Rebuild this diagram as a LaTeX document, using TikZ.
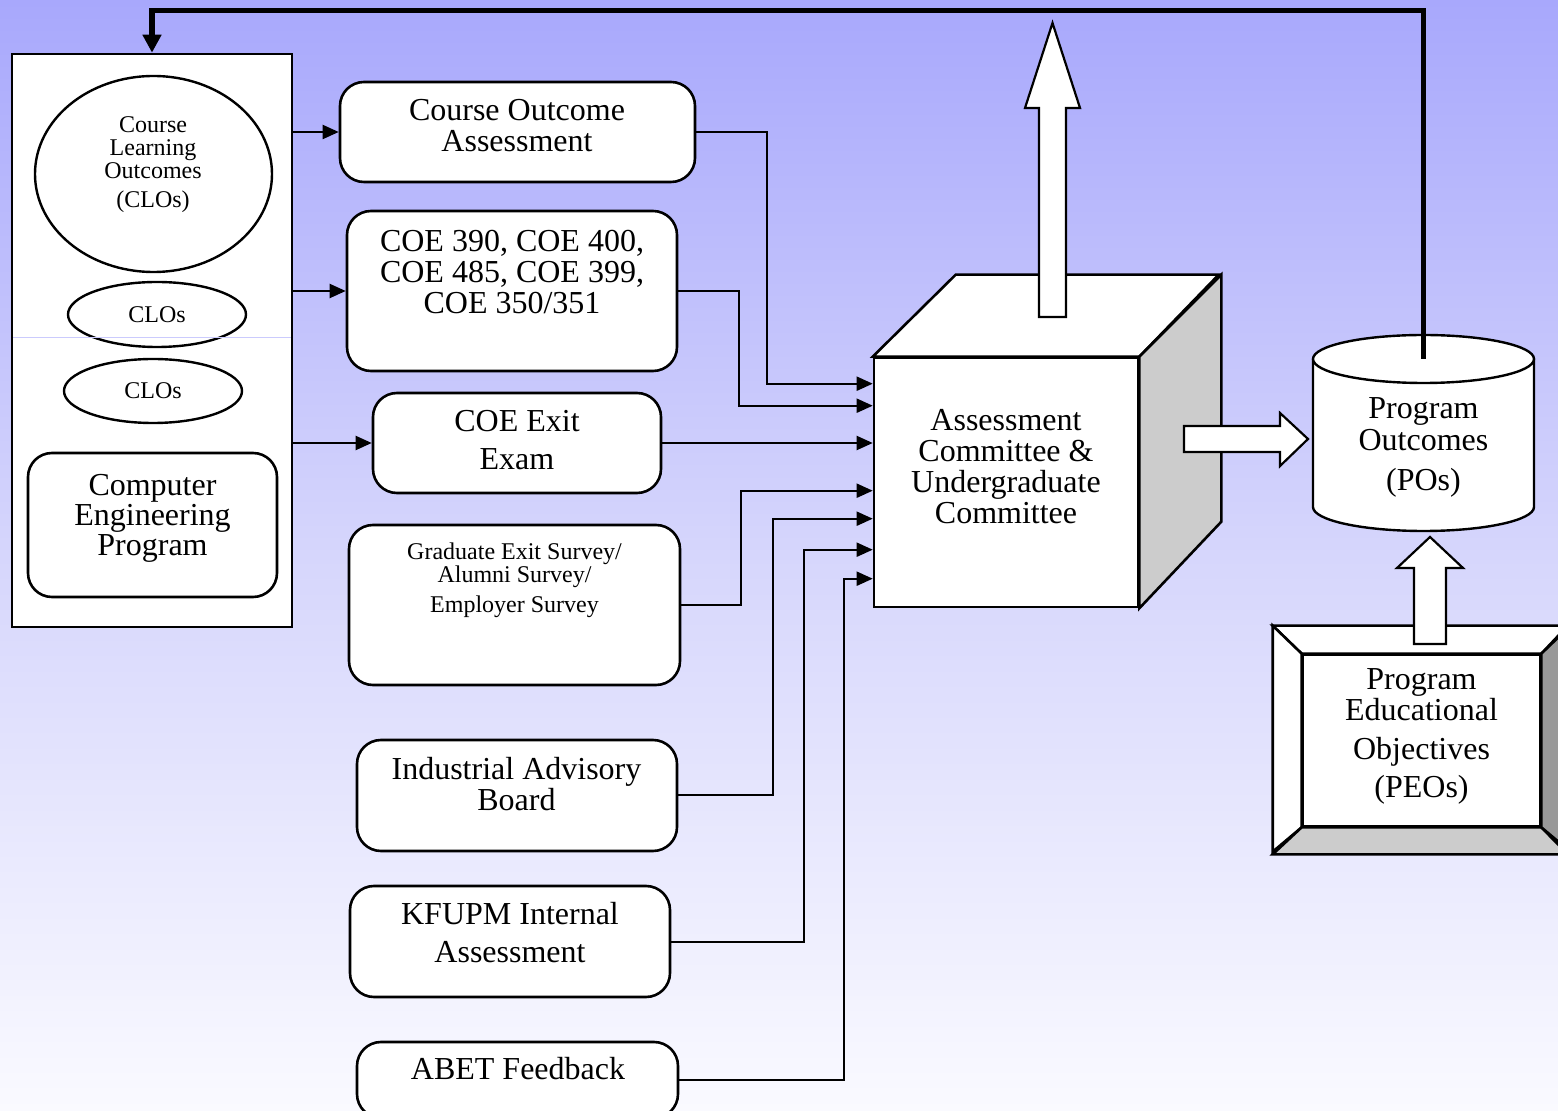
\documentclass[tikz,border=0pt]{standalone}
\usepackage{fontspec}
\setmainfont{Liberation Serif}
\usetikzlibrary{shapes,positioning,calc}
\usetikzlibrary{shapes.geometric}
\usetikzlibrary{arrows.meta}
\definecolor{bgtop}{RGB}{168,168,252}
\definecolor{bgmid}{RGB}{214,214,252}
\definecolor{bgbot}{RGB}{250,250,255}
\definecolor{sideface}{RGB}{204,204,204}
\definecolor{darkside}{RGB}{153,153,153}
\tikzstyle{arrow} = [line width=1pt,-{Triangle[length=8pt,width=7pt]}]
\tikzstyle{feedback} = [line width=2.6pt,-{Triangle[length=9pt,width=9pt]}]
\tikzstyle{rbox} = [draw,line width=1.3pt,fill=white,rounded corners=12pt,inner sep=0pt]
\tikzstyle{plainbox} = [draw,line width=1.3pt,fill=white,inner sep=0pt]
\tikzstyle{oval} = [draw,ellipse,line width=1.2pt,fill=white,inner sep=0pt]
\tikzstyle{bigtext} = [font=\fontsize{16}{15.5}\selectfont,align=center,inner sep=0pt]
\tikzstyle{smalltext} = [font=\fontsize{12}{11.5}\selectfont,align=center,inner sep=0pt]
\tikzstyle{blockarrow} = [draw,fill=white,line width=1.1pt,line join=miter]
\tikzstyle{face} = [draw,line width=1.3pt,line join=miter]

\begin{document}
\begin{tikzpicture}[x=0.5pt,y=-0.5pt]
\useasboundingbox (0,0) rectangle (1558,1111);
\clip (0,0) rectangle (1558,1111);
\shade[top color=bgtop,bottom color=bgbot,middle color=bgmid] (0,0) rectangle (1558,1111);

\node[plainbox,minimum width=140pt,minimum height=286.5pt] (cebox) at (152,340.5) {};
\node[oval,minimum width=118.5pt,minimum height=98pt] (clo) at (153.5,174) {};
\node[smalltext] (clotext) at (153,164.5) {Course\\Learning\\Outcomes\\[3pt](CLOs)};
\node[oval,smalltext,minimum width=89pt,minimum height=32.5pt] (cloa) at (157,314.5) {CLOs};
\node[oval,smalltext,minimum width=89pt,minimum height=32pt] (clob) at (153,391) {CLOs};
\draw[color=bgtop!60,line width=0.5pt] (13,338) -- (291,338);
\node[rbox,minimum width=124.5pt,minimum height=72pt] (prog) at (152.5,525) {};
\node[bigtext] (progtext) at (152.5,518) {Computer\\[-0.5pt]Engineering\\[-0.5pt]Program};

\node[rbox,minimum width=177.5pt,minimum height=50pt] (coa) at (517.5,132) {};
\node[bigtext] (coatext) at (517,126) {Course Outcome\\Assessment};
\node[rbox,minimum width=165pt,minimum height=80pt] (coe) at (512,291) {};
\node[bigtext] (coetext) at (512,272) {COE 390, COE 400,\\COE 485, COE 399,\\COE 350/351};
\node[rbox,minimum width=144pt,minimum height=50pt] (exit) at (517,443) {};
\node[bigtext] (exittext) at (517,440.5) {COE Exit\\[3.5pt]Exam};
\node[rbox,minimum width=165.5pt,minimum height=80pt] (grad) at (514.5,605) {};
\node[smalltext] (gradtext) at (514.5,580.5) {Graduate Exit Survey/\\Alumni Survey/\\[3.5pt]Employer Survey};
\node[rbox,minimum width=160pt,minimum height=55.5pt] (iab) at (517,795.5) {};
\node[bigtext] (iabtext) at (516.5,784) {Industrial Advisory\\Board};
\node[rbox,minimum width=160pt,minimum height=55.5pt] (kfupm) at (510,941.5) {};
\node[bigtext] (kfupmtext) at (510,933) {KFUPM Internal\\[3.5pt]Assessment};
\node[rbox,minimum width=160.5pt,minimum height=38pt] (abet) at (517.5,1080) {};
\node[bigtext] (abettext) at (518,1069) {ABET Feedback};

\node[plainbox,minimum width=132pt,minimum height=124.5pt] (front) at (1006,482.5) {};
\filldraw[face,fill=white] (front.north west) -- ++(83,-82) -- ++(263,0) -- (front.north east) -- cycle;
\filldraw[face,fill=sideface] (front.north east) -- ++(82,-82) -- ++(0,247) -- (front.south east) -- cycle;
\node[bigtext] (cubetext) at (1006,466.5) {Assessment\\Committee \&\\Undergraduate\\Committee};

\coordinate (potop) at (1423.5,359);
\filldraw[line width=1.2pt,fill=white] ($(potop)+(-110.5,0)$) -- ++(0,148) arc[start angle=180,end angle=360,x radius=55.25pt,y radius=12pt] -- ++(0,-148);
\draw[line width=1.2pt,fill=white] (potop) ellipse[x radius=55.25pt,y radius=12pt];
\node[bigtext] (po) at (1423.5,447.5) {Program\\[0.5pt]Outcomes\\[4.5pt](POs)};

\node[plainbox,minimum width=118.5pt,minimum height=85.5pt] (peo) at (1421.5,740.5) {};
\filldraw[face,fill=white] (peo.north west) -- ++(-29,-28) -- ++(295,0) -- (peo.north east) -- cycle;
\filldraw[face,fill=white] (peo.north west) -- ++(-29,-28) -- ++(0,226) -- (peo.south west) -- cycle;
\filldraw[face,fill=sideface] (peo.south west) -- ++(-29,27) -- ++(295,0) -- (peo.south east) -- cycle;
\filldraw[face,fill=darkside] (peo.north east) -- ++(29,-28) -- ++(0,226) -- (peo.south east) -- cycle;
\node[bigtext] (peotext) at (1421.5,736) {Program\\Educational\\[4pt]Objectives\\[3.5pt](PEOs)};

\draw[blockarrow] (1039,317) -- (1039,108) -- (1025,108) -- (1052.5,23) -- (1080,108) -- (1066,108) -- (1066,317) -- cycle;
\draw[blockarrow] (1184,426) -- (1280,426) -- (1280,413) -- (1308,439) -- (1280,466) -- (1280,452) -- (1184,452) -- cycle;
\draw[blockarrow] (1414,644) -- (1414,568) -- (1397,568) -- (1430,537) -- (1463,568) -- (1446,568) -- (1446,644) -- cycle;

\draw[feedback] (potop) |- ($(cebox.north)+(0,-42)$) -- (cebox.north);

\draw[arrow] (cebox.east |- coa.west) -- (coa.west);
\draw[arrow] (cebox.east |- coe.west) -- (coe.west);
\draw[arrow] (cebox.east |- exit.west) -- (exit.west);
\draw[arrow] (coa.east) -- ++(71,0) |- ($(front.north west)+(0,27)$);
\draw[arrow] (coe.east) -- ++(61,0) |- ($(front.north west)+(0,49)$);
\draw[arrow] (exit.east) -- (exit.east -| front.west);
\draw[arrow] (grad.east) -- ++(60,0) |- ($(front.north west)+(0,134)$);
\draw[arrow] (iab.east) -- ++(95,0) |- ($(front.north west)+(0,162)$);
\draw[arrow] (kfupm.east) -- ++(133,0) |- ($(front.north west)+(0,193)$);
\draw[arrow] (abet.east) -- ++(165,0) |- ($(front.north west)+(0,222)$);
\end{tikzpicture}
\end{document}
